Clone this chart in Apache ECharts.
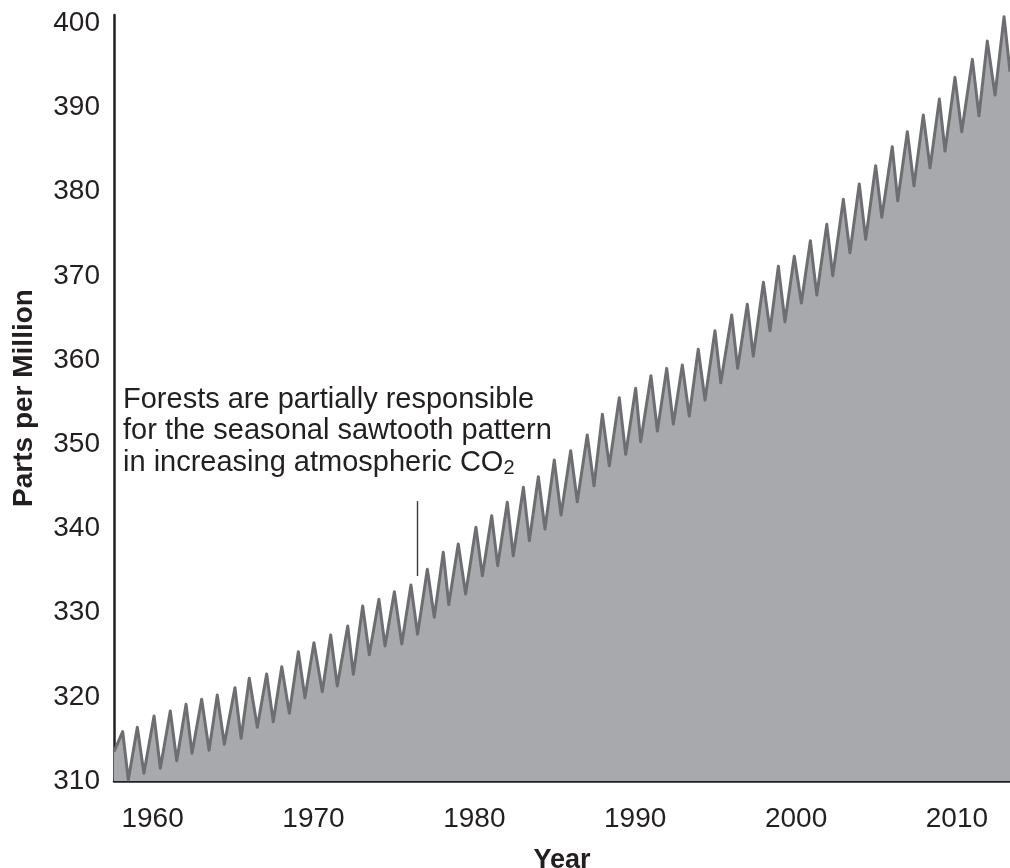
<!DOCTYPE html>
<html>
<head>
<meta charset="utf-8">
<script src="https://cdn.jsdelivr.net/npm/echarts@6/dist/echarts.min.js"></script>
<style>
html,body{margin:0;padding:0;background:#fff;}
#chart{width:1010px;height:868px;}
</style>
</head>
<body>
<div id="chart"></div>
<script>
// Decimal-year positions of the sawtooth turning points (start, then peak/trough pairs, end)
const years = [
  1957.60,
  1958.14, 1958.49, 1959.05, 1959.46, 1960.09, 1960.48, 1961.10, 1961.50,
  1962.08, 1962.45, 1963.05, 1963.51, 1964.02, 1964.46, 1965.12, 1965.50,
  1966.01, 1966.51, 1967.09, 1967.50, 1968.03, 1968.50, 1969.06, 1969.47,
  1970.03, 1970.55, 1971.07, 1971.48, 1972.13, 1972.48, 1973.06, 1973.47,
  1974.07, 1974.45, 1975.03, 1975.49, 1976.06, 1976.47, 1977.08, 1977.51,
  1978.07, 1978.41, 1979.00, 1979.46, 1980.10, 1980.50, 1981.08, 1981.45,
  1982.05, 1982.42, 1983.05, 1983.42, 1983.98, 1984.39, 1984.97, 1985.39,
  1985.99, 1986.40, 1987.02, 1987.44, 1987.96, 1988.39, 1989.01, 1989.41,
  1990.03, 1990.34, 1990.98, 1991.38, 1991.96, 1992.37, 1992.93, 1993.36,
  1993.92, 1994.34, 1994.96, 1995.32, 1996.00, 1996.37, 1996.97, 1997.34,
  1997.97, 1998.38, 1998.90, 1999.31, 1999.89, 2000.33, 2000.89, 2001.29,
  2001.91, 2002.28, 2002.94, 2003.35, 2003.93, 2004.33, 2004.95, 2005.33,
  2005.98, 2006.32, 2006.92, 2007.33, 2007.91, 2008.33, 2008.91, 2009.26,
  2009.88, 2010.30, 2010.96, 2011.37, 2011.89, 2012.37, 2012.93,
  2013.30
];
// CO2 concentration (ppm) at those points
const co2 = [
  313.48,
  315.86, 310.12, 316.38, 310.91, 317.72, 311.51, 318.32, 312.41,
  319.11, 313.29, 319.71, 313.65, 320.22, 314.36, 321.08, 315.07,
  322.20, 316.38, 322.71, 317.04, 323.58, 318.04, 325.36, 319.90,
  326.43, 320.61, 327.34, 321.29, 328.41, 322.67, 330.79, 325.00,
  331.58, 326.04, 332.49, 326.27, 333.28, 327.43, 335.15, 329.45,
  337.17, 330.97, 338.15, 332.21, 340.14, 334.39, 341.52, 335.58,
  343.11, 336.76, 344.89, 338.55, 346.15, 339.94, 348.13, 341.60,
  349.24, 343.18, 351.10, 345.08, 353.56, 347.45, 355.53, 348.81,
  356.65, 350.31, 358.15, 351.58, 359.02, 352.41, 359.42, 353.36,
  361.29, 355.26, 363.49, 357.31, 365.36, 359.02, 366.63, 360.49,
  369.24, 363.49, 371.14, 364.56, 372.33, 366.78, 374.18, 367.73,
  376.13, 370.03, 379.10, 372.76, 380.92, 374.35, 383.09, 376.96,
  385.35, 378.93, 387.13, 380.72, 389.11, 382.85, 391.01, 384.84,
  393.59, 387.13, 395.73, 389.03, 397.90, 391.49, 400.79,
  394.26
];
const xTickLabels = [1960, 1970, 1980, 1990, 2000, 2010];
const yTickLabels = [310, 320, 330, 340, 350, 360, 370, 380, 390, 400];
const calloutYear = 1976.43;
const calloutRange = [343.25, 334.35];

const FONT = '"Liberation Sans", Arial, Helvetica, sans-serif';
const INK = '#231f20';

const seriesData = years.map((y, i) => [y, co2[i]]);

const chart = echarts.init(document.getElementById('chart'), null, {renderer: 'canvas'});
chart.setOption({
  animation: false,
  backgroundColor: '#ffffff',
  grid: {left: 114, right: 0, top: 15, bottom: 87, containLabel: false, outerBoundsMode: 'none'},
  xAxis: {
    type: 'value',
    min: 1957.6,
    max: 2013.3,
    name: 'Year',
    nameLocation: 'middle',
    nameGap: 66,
    nameTextStyle: {fontFamily: FONT, fontSize: 27, fontWeight: 'bold', color: INK},
    axisLine: {show: true, onZero: false, lineStyle: {color: INK, width: 2.5}},
    axisTick: {show: false},
    splitLine: {show: false},
    axisLabel: {
      customValues: xTickLabels,
      fontFamily: FONT, fontSize: 28, color: INK, margin: 24,
      formatter: v => String(Math.round(v))
    }
  },
  yAxis: {
    type: 'value',
    min: 310,
    max: 401,
    name: 'Parts per Million',
    nameLocation: 'middle',
    nameGap: 76,
    nameRotate: 90,
    nameTextStyle: {fontFamily: FONT, fontSize: 28, fontWeight: 'bold', color: INK},
    axisLine: {show: true, onZero: false, lineStyle: {color: INK, width: 2.5}},
    axisTick: {show: false},
    splitLine: {show: false},
    axisLabel: {
      customValues: yTickLabels,
      fontFamily: FONT, fontSize: 28, color: INK, margin: 14,
      formatter: v => String(Math.round(v))
    }
  },
  series: [{
    type: 'line',
    data: seriesData,
    showSymbol: false,
    symbol: 'none',
    z: 1,
    lineStyle: {color: '#6d6e71', width: 3, join: 'round'},
    areaStyle: {color: '#a7a9ac', opacity: 1, origin: 'start'},
    markLine: {
      silent: true,
      symbol: ['none', 'none'],
      label: {show: false},
      lineStyle: {color: '#3c3c3c', width: 1.4, type: 'solid'},
      data: [[
        {coord: [calloutYear, calloutRange[0]]},
        {coord: [calloutYear, calloutRange[1]]}
      ]]
    }
  }],
  graphic: [{
    type: 'text',
    left: 123,
    top: 384,
    z: 10,
    style: {
      text: 'Forests are partially responsible\nfor the seasonal sawtooth pattern\nin increasing atmospheric CO{s|2}',
      fontFamily: FONT,
      fontSize: 29,
      lineHeight: 31.5,
      fill: INK,
      rich: {
        s: {fontFamily: FONT, fontSize: 20, lineHeight: 12, verticalAlign: 'bottom', fill: INK}
      }
    }
  }]
});
</script>
</body>
</html>
